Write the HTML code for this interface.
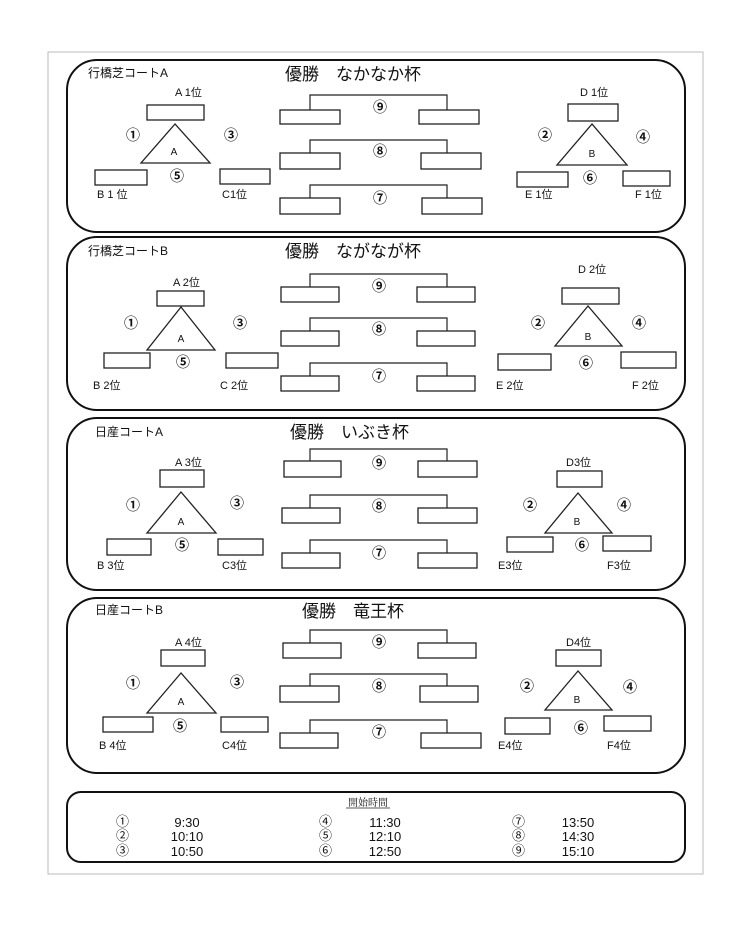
<!DOCTYPE html>
<html><head><meta charset="utf-8"><style>
html,body{margin:0;padding:0;background:#fff;}
svg{display:block;}
text{font-family:"Liberation Sans","Noto Sans CJK JP",sans-serif;fill:#111;}
.t{font-size:12px;}
.h{font-size:17px;}
.l{font-size:11px;}
.c{font-size:14px;font-weight:bold;text-anchor:middle;}
.s{font-size:10px;text-anchor:middle;}
rect.b,polygon{fill:#fff;stroke:#222;stroke-width:1.3;}
path.k{fill:none;stroke:#222;stroke-width:1.2;}
rect.p{fill:none;stroke:#111;stroke-width:2;}
.tm{font-size:13px;text-anchor:middle;}
</style></head><body>
<svg width="735" height="927" viewBox="0 0 735 927" xmlns="http://www.w3.org/2000/svg">
<rect x="48" y="52" width="655" height="822" fill="none" stroke="#bbb" stroke-width="1"/>

<!-- Panel 1 -->
<rect class="p" x="67" y="60" width="618" height="172" rx="30"/>
<text class="t" x="88" y="77">行橋芝コートA</text>
<text class="h" x="285" y="80">優勝　なかなか杯</text>
<rect class="b" x="280" y="110" width="60" height="14"/><rect class="b" x="419" y="110" width="60" height="14"/>
<path class="k" d="M310 110V95H447V110"/><text class="c" x="380" y="112">⑨</text>
<rect class="b" x="280" y="153" width="60" height="16"/><rect class="b" x="421" y="153" width="60" height="16"/>
<path class="k" d="M310 153V140H447V153"/><text class="c" x="380" y="156">⑧</text>
<rect class="b" x="280" y="198" width="60" height="16"/><rect class="b" x="422" y="198" width="60" height="16"/>
<path class="k" d="M310 198V185H447V198"/><text class="c" x="380" y="203">⑦</text>
<text class="l" x="175" y="96">A 1位</text>
<rect class="b" x="147" y="105" width="57" height="15"/>
<polygon points="175,124 141,163 210,163"/><text class="s" x="174" y="155">A</text>
<text class="c" x="133" y="140">①</text><text class="c" x="231" y="140">③</text><text class="c" x="177" y="181">⑤</text>
<rect class="b" x="95" y="170" width="52" height="15"/><rect class="b" x="220" y="169" width="50" height="15"/>
<text class="l" x="97" y="198">B 1 位</text><text class="l" x="222" y="198">C1位</text>
<text class="l" x="580" y="96">D 1位</text>
<rect class="b" x="568" y="104" width="50" height="17"/>
<polygon points="592,124 557,165 627,165"/><text class="s" x="592" y="157">B</text>
<text class="c" x="545" y="140">②</text><text class="c" x="643" y="142">④</text><text class="c" x="590" y="183">⑥</text>
<rect class="b" x="517" y="172" width="51" height="15"/><rect class="b" x="623" y="171" width="47" height="15"/>
<text class="l" x="525" y="198">E 1位</text><text class="l" x="635" y="198">F 1位</text>

<!-- Panel 2 -->
<rect class="p" x="67" y="237" width="618" height="173" rx="30"/>
<text class="t" x="88" y="255">行橋芝コートB</text>
<text class="h" x="285" y="257">優勝　ながなが杯</text>
<rect class="b" x="281" y="287" width="58" height="15"/><rect class="b" x="417" y="287" width="58" height="15"/>
<path class="k" d="M310 287V274H447V287"/><text class="c" x="379" y="291">⑨</text>
<rect class="b" x="281" y="331" width="58" height="15"/><rect class="b" x="417" y="331" width="58" height="15"/>
<path class="k" d="M310 331V318H447V331"/><text class="c" x="379" y="334">⑧</text>
<rect class="b" x="281" y="376" width="58" height="15"/><rect class="b" x="417" y="376" width="58" height="15"/>
<path class="k" d="M310 376V363H447V376"/><text class="c" x="379" y="381">⑦</text>
<text class="l" x="173" y="286">A 2位</text>
<rect class="b" x="157" y="291" width="47" height="15"/>
<polygon points="181,307 147,350 215,350"/><text class="s" x="181" y="342">A</text>
<text class="c" x="131" y="328">①</text><text class="c" x="240" y="328">③</text><text class="c" x="183" y="367">⑤</text>
<rect class="b" x="104" y="353" width="46" height="15"/><rect class="b" x="226" y="353" width="52" height="15"/>
<text class="l" x="93" y="389">B 2位</text><text class="l" x="220" y="389">C 2位</text>
<text class="l" x="578" y="273">D 2位</text>
<rect class="b" x="562" y="288" width="57" height="16"/>
<polygon points="588,306 555,346 622,346"/><text class="s" x="588" y="340">B</text>
<text class="c" x="538" y="328">②</text><text class="c" x="639" y="328">④</text><text class="c" x="586" y="368">⑥</text>
<rect class="b" x="498" y="354" width="53" height="16"/><rect class="b" x="621" y="352" width="55" height="16"/>
<text class="l" x="496" y="389">E 2位</text><text class="l" x="632" y="389">F 2位</text>

<!-- Panel 3 -->
<rect class="p" x="67" y="418" width="618" height="172" rx="30"/>
<text class="t" x="95" y="436">日産コートA</text>
<text class="h" x="290" y="438">優勝　いぶき杯</text>
<rect class="b" x="284" y="461" width="57" height="16"/><rect class="b" x="418" y="461" width="59" height="16"/>
<path class="k" d="M310 461V449H447V461"/><text class="c" x="379" y="468">⑨</text>
<rect class="b" x="282" y="508" width="58" height="15"/><rect class="b" x="418" y="508" width="59" height="15"/>
<path class="k" d="M310 508V495H447V508"/><text class="c" x="379" y="511">⑧</text>
<rect class="b" x="282" y="553" width="58" height="15"/><rect class="b" x="418" y="553" width="59" height="15"/>
<path class="k" d="M310 553V540H447V553"/><text class="c" x="379" y="558">⑦</text>
<text class="l" x="175" y="466">A 3位</text>
<rect class="b" x="160" y="470" width="44" height="17"/>
<polygon points="181,492 147,533 216,533"/><text class="s" x="181" y="525">A</text>
<text class="c" x="133" y="510">①</text><text class="c" x="237" y="508">③</text><text class="c" x="182" y="550">⑤</text>
<rect class="b" x="107" y="539" width="44" height="16"/><rect class="b" x="218" y="539" width="45" height="16"/>
<text class="l" x="97" y="569">B 3位</text><text class="l" x="222" y="569">C3位</text>
<text class="l" x="566" y="466">D3位</text>
<rect class="b" x="557" y="471" width="45" height="16"/>
<polygon points="578,493 545,533 612,533"/><text class="s" x="577" y="525">B</text>
<text class="c" x="530" y="510">②</text><text class="c" x="624" y="510">④</text><text class="c" x="582" y="550">⑥</text>
<rect class="b" x="507" y="537" width="46" height="15"/><rect class="b" x="603" y="536" width="48" height="15"/>
<text class="l" x="498" y="569">E3位</text><text class="l" x="607" y="569">F3位</text>

<!-- Panel 4 -->
<rect class="p" x="67" y="598" width="618" height="175" rx="30"/>
<text class="t" x="95" y="614">日産コートB</text>
<text class="h" x="302" y="617">優勝　竜王杯</text>
<rect class="b" x="283" y="643" width="58" height="15"/><rect class="b" x="418" y="643" width="58" height="15"/>
<path class="k" d="M310 643V630H447V643"/><text class="c" x="379" y="647">⑨</text>
<rect class="b" x="280" y="686" width="59" height="16"/><rect class="b" x="420" y="686" width="58" height="16"/>
<path class="k" d="M310 686V674H447V686"/><text class="c" x="379" y="691">⑧</text>
<rect class="b" x="280" y="733" width="58" height="15"/><rect class="b" x="421" y="733" width="60" height="15"/>
<path class="k" d="M310 733V720H447V733"/><text class="c" x="379" y="737">⑦</text>
<text class="l" x="175" y="646">A 4位</text>
<rect class="b" x="161" y="650" width="44" height="16"/>
<polygon points="181,673 147,713 216,713"/><text class="s" x="181" y="705">A</text>
<text class="c" x="133" y="688">①</text><text class="c" x="237" y="687">③</text><text class="c" x="180" y="731">⑤</text>
<rect class="b" x="103" y="717" width="50" height="15"/><rect class="b" x="221" y="717" width="47" height="15"/>
<text class="l" x="99" y="749">B 4位</text><text class="l" x="222" y="749">C4位</text>
<text class="l" x="566" y="646">D4位</text>
<rect class="b" x="556" y="650" width="45" height="16"/>
<polygon points="578,671 545,710 612,710"/><text class="s" x="577" y="703">B</text>
<text class="c" x="527" y="691">②</text><text class="c" x="630" y="692">④</text><text class="c" x="581" y="733">⑥</text>
<rect class="b" x="505" y="718" width="45" height="16"/><rect class="b" x="604" y="716" width="47" height="15"/>
<text class="l" x="498" y="749">E4位</text><text class="l" x="607" y="749">F4位</text>

<!-- Panel 5 -->
<rect class="p" x="67" y="792" width="618" height="70" rx="14"/>
<text x="368" y="806" style="font-size:10px;text-anchor:middle;font-family:'Liberation Serif','Noto Serif CJK SC',serif">開始時間</text>
<line x1="346" y1="808" x2="390" y2="808" stroke="#222" stroke-width="0.8"/>
<g style="font-size:13px">
<text x="116" y="826">①</text><text x="116" y="840">②</text><text x="116" y="855">③</text>
<text x="319" y="826">④</text><text x="319" y="840">⑤</text><text x="319" y="855">⑥</text>
<text x="512" y="826">⑦</text><text x="512" y="840">⑧</text><text x="512" y="855">⑨</text>
</g>
<text class="tm" x="187" y="827">9:30</text><text class="tm" x="187" y="841">10:10</text><text class="tm" x="187" y="856">10:50</text>
<text class="tm" x="385" y="827">11:30</text><text class="tm" x="385" y="841">12:10</text><text class="tm" x="385" y="856">12:50</text>
<text class="tm" x="578" y="827">13:50</text><text class="tm" x="578" y="841">14:30</text><text class="tm" x="578" y="856">15:10</text>
</svg>
</body></html>
